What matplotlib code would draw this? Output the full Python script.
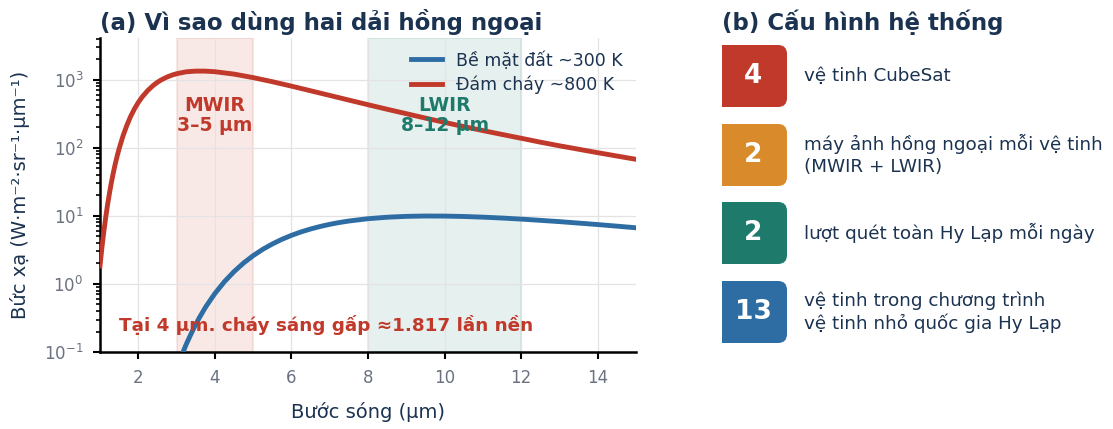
import numpy as np
import matplotlib.pyplot as plt
from matplotlib.patches import FancyBboxPatch

# wavelength (um) and radiance (W m-2 sr-1 um-1)
wl_fire = [1.0, 1.05, 1.1, 1.15, 1.2, 1.25, 1.3, 1.35, 1.4, 1.45, 1.5, 1.6, 1.7, 1.8, 1.9, 2.0,
           2.1, 2.25, 2.4, 2.5, 2.6, 2.75, 2.9, 3.0, 3.25, 3.5, 3.75,
           4.0, 4.5, 5.0, 5.5, 6.0, 6.5, 7.0, 7.5, 8.0, 8.5, 9.0, 9.5, 10.0, 10.5, 11.0, 11.5,
           12.0, 12.5, 13.0, 13.5, 14.0, 14.5, 15.0]
rad_fire = [1.84, 3.40, 5.87, 9.56, 14.9, 22.0, 31.5, 43.5, 58.4, 76.3, 97.3, 149, 213, 289, 373, 463,
            557, 697, 833, 917, 994, 1096, 1179, 1224, 1307, 1338, 1337,
            1311, 1209, 1074, 935, 805, 688, 588, 502, 429, 368, 317, 273, 236, 205, 179, 157,
            138, 121, 107, 95.2, 84.7, 75.7, 67.7]

wl_ground = [3.0, 3.05, 3.1, 3.2, 3.25, 3.4, 3.5, 3.6, 3.75, 3.8, 4.0, 4.25, 4.5, 4.75, 5.0, 5.25,
             5.5, 5.75, 6.0, 6.25, 6.5, 6.75, 7.0, 7.25, 7.5, 8.0, 8.5, 9.0,
             9.5, 10.0, 10.5, 11.0, 11.5, 12.0, 12.5, 13.0, 13.5, 14.0, 14.5, 15.0]
rad_ground = [0.0559, 0.0669, 0.0795, 0.110, 0.129, 0.196, 0.254, 0.323, 0.449, 0.496, 0.722, 1.079, 1.515, 2.03, 2.60, 3.22,
              3.86, 4.52, 5.17, 5.81, 6.41, 6.98, 7.51, 7.98, 8.40, 9.08, 9.55, 9.83,
              9.95, 9.92, 9.79, 9.57, 9.29, 8.96, 8.59, 8.23, 7.83, 7.45, 7.06, 6.68]

bands = [("MWIR", "3–5 µm", 3, 5), ("LWIR", "8–12 µm", 8, 12)]
ratio_text = "Tại 4 µm. cháy sáng gấp ≈1.817 lần nền"

stat_numbers = ["4", "2", "2", "13"]
stat_labels = ["vệ tinh CubeSat",
               "máy ảnh hồng ngoại mỗi vệ tinh\n(MWIR + LWIR)",
               "lượt quét toàn Hy Lạp mỗi ngày",
               "vệ tinh trong chương trình\nvệ tinh nhỏ quốc gia Hy Lạp"]

NAVY = "#1b3350"
RED = "#c0392b"
BLUE = "#2e6da4"
GREEN = "#1e7b6b"
ORANGE = "#d98b2b"
GREY = "#6b7280"

fig = plt.figure(figsize=(11.13, 4.29), dpi=100)
ax = fig.add_axes([100/1113, 77/429, 536/1113, 314/429])

band_cols = [RED, GREEN]
for (name, rng, lo, hi), c in zip(bands, band_cols):
    ax.axvspan(lo, hi, facecolor=c, alpha=0.11, edgecolor=c, lw=1.5, zorder=0)

ax.plot(wl_ground, rad_ground, color=BLUE, lw=3.5, label="Bề mặt đất ~300 K", zorder=3)
ax.plot(wl_fire, rad_fire, color=RED, lw=3.5, label="Đám cháy ~800 K", zorder=3)

ax.set_yscale("log")
ax.set_xlim(1, 15)
ax.set_ylim(0.1, 4100)
ax.set_xticks([2, 4, 6, 8, 10, 12, 14])
ax.grid(True, color="#e3e3e3", lw=0.9, zorder=0)
ax.set_axisbelow(True)

for (name, rng, lo, hi), c in zip(bands, band_cols):
    ax.text((lo + hi) / 2, 300, name + "\n" + rng, color=c, fontsize=13.5, fontweight="bold",
            ha="center", va="center", linespacing=1.1, zorder=4)

ax.text(1.5, 0.25, ratio_text, color=RED, fontsize=13.2, fontweight="bold",
        ha="left", va="center", zorder=4)

for s in ["top", "right"]:
    ax.spines[s].set_visible(False)
for s in ["left", "bottom"]:
    ax.spines[s].set_linewidth(1.8)
    ax.spines[s].set_color("black")
ax.tick_params(axis="both", colors="black", labelcolor=GREY, labelsize=12, width=1.5, length=5, pad=7)
ax.tick_params(axis="y", which="minor", width=1.2, length=3, colors="black")

ax.set_xlabel("Bước sóng (µm)", color=NAVY, fontsize=14, labelpad=11)
ax.set_ylabel("Bức xạ (W·m⁻²·sr⁻¹·µm⁻¹)", color=NAVY, fontsize=14, labelpad=10)

leg = ax.legend(loc="upper right", frameon=False, fontsize=12.5, handlelength=1.8,
                borderaxespad=0.35, labelspacing=0.35)
for t in leg.get_texts():
    t.set_color(NAVY)

fig.text(100/1113, 1 - 22/429, "(a) Vì sao dùng hai dải hồng ngoại", color=NAVY,
         fontsize=16.5, fontweight="bold", ha="left", va="center")

# right panel in pixel-like coordinates
ax2 = fig.add_axes([722/1113, 0, 391/1113, 1])
ax2.set_xlim(0, 391)
ax2.set_ylim(429, 0)
ax2.axis("off")

fig.text(722/1113, 1 - 22/429, "(b) Cấu hình hệ thống", color=NAVY,
         fontsize=16.5, fontweight="bold", ha="left", va="center")

box_cols = [RED, ORANGE, GREEN, BLUE]
box_tops = [45, 124, 202, 281]
for num, lab, c, top in zip(stat_numbers, stat_labels, box_cols, box_tops):
    p = FancyBboxPatch((-20, top), 85, 62, boxstyle="round,pad=0,rounding_size=9",
                       facecolor=c, edgecolor="none", clip_on=True)
    ax2.add_patch(p)
    ax2.text(31, top + 31, num, color="white", fontsize=19, fontweight="bold",
             ha="center", va="center")
    ax2.text(82, top + 31, lab, color=NAVY, fontsize=13.2, ha="left", va="center",
             linespacing=1.25)

fig.savefig("out.png", dpi=100)
